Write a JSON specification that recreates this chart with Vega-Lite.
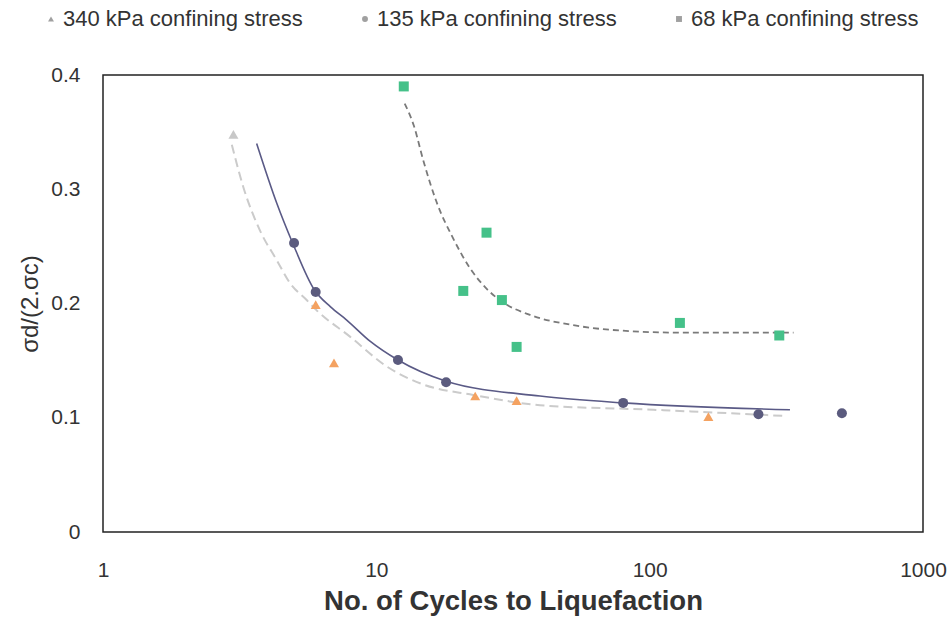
{
  "$schema": "https://vega.github.io/schema/vega-lite/v6.json",
  "autosize": {"type": "none"},
  "padding": {"left": 103, "top": 75, "right": 29, "bottom": 87},
  "width": 820,
  "height": 457,
  "background": "white",
  "config": {
    "view": {"stroke": "#222", "strokeWidth": 1.5},
    "font": "Liberation Sans",
    "axis": {"domain": false, "ticks": false, "grid": false, "labelFontSize": 21, "labelColor": "#333", "titleColor": "#333", "labelFont": "Liberation Sans", "titleFont": "Liberation Sans", "labelFlush": false, "labelOverlap": false}
  },
  "datasets": {
    "pts": [
      {"N": 3, "ratio": 0.348, "series": "340 kPa confining stress"},
      {"N": 6, "ratio": 0.199, "series": "340 kPa confining stress"},
      {"N": 7, "ratio": 0.148, "series": "340 kPa confining stress"},
      {"N": 23, "ratio": 0.119, "series": "340 kPa confining stress"},
      {"N": 32.6, "ratio": 0.115, "series": "340 kPa confining stress"},
      {"N": 164, "ratio": 0.101, "series": "340 kPa confining stress"},
      {"N": 5, "ratio": 0.253, "series": "135 kPa confining stress"},
      {"N": 6, "ratio": 0.21, "series": "135 kPa confining stress"},
      {"N": 12, "ratio": 0.1505, "series": "135 kPa confining stress"},
      {"N": 18, "ratio": 0.131, "series": "135 kPa confining stress"},
      {"N": 80, "ratio": 0.113, "series": "135 kPa confining stress"},
      {"N": 250, "ratio": 0.103, "series": "135 kPa confining stress"},
      {"N": 505, "ratio": 0.104, "series": "135 kPa confining stress"},
      {"N": 12.6, "ratio": 0.39, "series": "68 kPa confining stress"},
      {"N": 25.3, "ratio": 0.262, "series": "68 kPa confining stress"},
      {"N": 20.8, "ratio": 0.211, "series": "68 kPa confining stress"},
      {"N": 28.8, "ratio": 0.203, "series": "68 kPa confining stress"},
      {"N": 32.6, "ratio": 0.162, "series": "68 kPa confining stress"},
      {"N": 129, "ratio": 0.183, "series": "68 kPa confining stress"},
      {"N": 298, "ratio": 0.172, "series": "68 kPa confining stress"}
    ],
    "curves": [
      {"N": 2.96, "ratio": 0.339, "curve": "340"},
      {"N": 3.26, "ratio": 0.302, "curve": "340"},
      {"N": 3.75, "ratio": 0.264, "curve": "340"},
      {"N": 4.32, "ratio": 0.238, "curve": "340"},
      {"N": 4.83, "ratio": 0.218, "curve": "340"},
      {"N": 5.56, "ratio": 0.203, "curve": "340"},
      {"N": 6.05, "ratio": 0.194, "curve": "340"},
      {"N": 8.01, "ratio": 0.171, "curve": "340"},
      {"N": 10.9, "ratio": 0.145, "curve": "340"},
      {"N": 14.9, "ratio": 0.129, "curve": "340"},
      {"N": 22.6, "ratio": 0.12, "curve": "340"},
      {"N": 39.7, "ratio": 0.111, "curve": "340"},
      {"N": 103, "ratio": 0.107, "curve": "340"},
      {"N": 317, "ratio": 0.1015, "curve": "340"},
      {"N": 3.65, "ratio": 0.34, "curve": "135"},
      {"N": 4.32, "ratio": 0.288, "curve": "135"},
      {"N": 4.94, "ratio": 0.253, "curve": "135"},
      {"N": 5.93, "ratio": 0.212, "curve": "135"},
      {"N": 6.8, "ratio": 0.197, "curve": "135"},
      {"N": 7.79, "ratio": 0.1855, "curve": "135"},
      {"N": 9.48, "ratio": 0.167, "curve": "135"},
      {"N": 12, "ratio": 0.1505, "curve": "135"},
      {"N": 18, "ratio": 0.132, "curve": "135"},
      {"N": 39.7, "ratio": 0.119, "curve": "135"},
      {"N": 80, "ratio": 0.113, "curve": "135"},
      {"N": 326, "ratio": 0.107, "curve": "135"},
      {"N": 12.7, "ratio": 0.375, "curve": "68"},
      {"N": 13.7, "ratio": 0.356, "curve": "68"},
      {"N": 14.9, "ratio": 0.324, "curve": "68"},
      {"N": 16.6, "ratio": 0.289, "curve": "68"},
      {"N": 19.1, "ratio": 0.257, "curve": "68"},
      {"N": 22.0, "ratio": 0.231, "curve": "68"},
      {"N": 25.3, "ratio": 0.213, "curve": "68"},
      {"N": 28.8, "ratio": 0.2016, "curve": "68"},
      {"N": 36.5, "ratio": 0.19, "curve": "68"},
      {"N": 52.6, "ratio": 0.181, "curve": "68"},
      {"N": 71.7, "ratio": 0.177, "curve": "68"},
      {"N": 129, "ratio": 0.1745, "curve": "68"},
      {"N": 336, "ratio": 0.1745, "curve": "68"}
    ]
  },
  "encoding": {
    "x": {"field": "N", "type": "quantitative",
      "scale": {"type": "log", "domain": [1, 1000], "nice": false},
      "axis": {"values": [1, 10, 100, 1000], "format": "d", "labelPadding": 27, "title": "No. of Cycles to Liquefaction", "titleFontSize": 27.5, "titleFontWeight": "bold", "titlePadding": 7}},
    "y": {"field": "ratio", "type": "quantitative",
      "scale": {"domain": [0, 0.4], "nice": false},
      "axis": {"values": [0, 0.1, 0.2, 0.3, 0.4], "format": "~g", "labelPadding": 23, "title": "σd/(2.σc)", "titleFontSize": 24, "titleFontWeight": "normal", "titlePadding": 8}}
  },
  "layer": [
    {"data": {"name": "curves"}, "transform": [{"filter": "datum.curve == '340'"}],
     "mark": {"type": "line", "color": "#cbcbcb", "strokeWidth": 2, "strokeDash": [9, 5], "interpolate": "monotone"}, "encoding": {}},
    {"data": {"name": "curves"}, "transform": [{"filter": "datum.curve == '68'"}],
     "mark": {"type": "line", "color": "#7a7a7a", "strokeWidth": 1.8, "strokeDash": [6, 4], "interpolate": "monotone"}, "encoding": {}},
    {"data": {"name": "curves"}, "transform": [{"filter": "datum.curve == '135'"}],
     "mark": {"type": "line", "color": "#5a5a86", "strokeWidth": 1.6, "interpolate": "monotone"}, "encoding": {}},
    {"data": {"name": "pts"},
     "mark": {"type": "point", "filled": true, "size": 100, "opacity": 1},
     "encoding": {
       "color": {"condition": [
           {"test": "datum.N < 4 && datum.series == '340 kPa confining stress'", "value": "#c8c8c8"},
           {"test": "datum.series == '340 kPa confining stress'", "value": "#f4a261"},
           {"test": "datum.series == '135 kPa confining stress'", "value": "#5b5b7e"},
           {"test": "datum.series == '68 kPa confining stress'", "value": "#45c189"}],
         "value": "#a0a0a0"},
       "shape": {"field": "series", "type": "nominal",
         "scale": {"domain": ["340 kPa confining stress", "135 kPa confining stress", "68 kPa confining stress"], "range": ["triangle-up", "circle", "square"]},
         "legend": {"title": null, "orient": "none", "legendX": -63, "legendY": -67, "direction": "horizontal",
           "labelFontSize": 22, "labelColor": "#333", "labelFont": "Liberation Sans", "labelLimit": 400, "symbolSize": 35, "labelOffset": 1, "columnPadding": 51,
           "symbolFillColor": "#a0a0a0", "symbolStrokeColor": "#a0a0a0"}}
     }}
  ]
}
